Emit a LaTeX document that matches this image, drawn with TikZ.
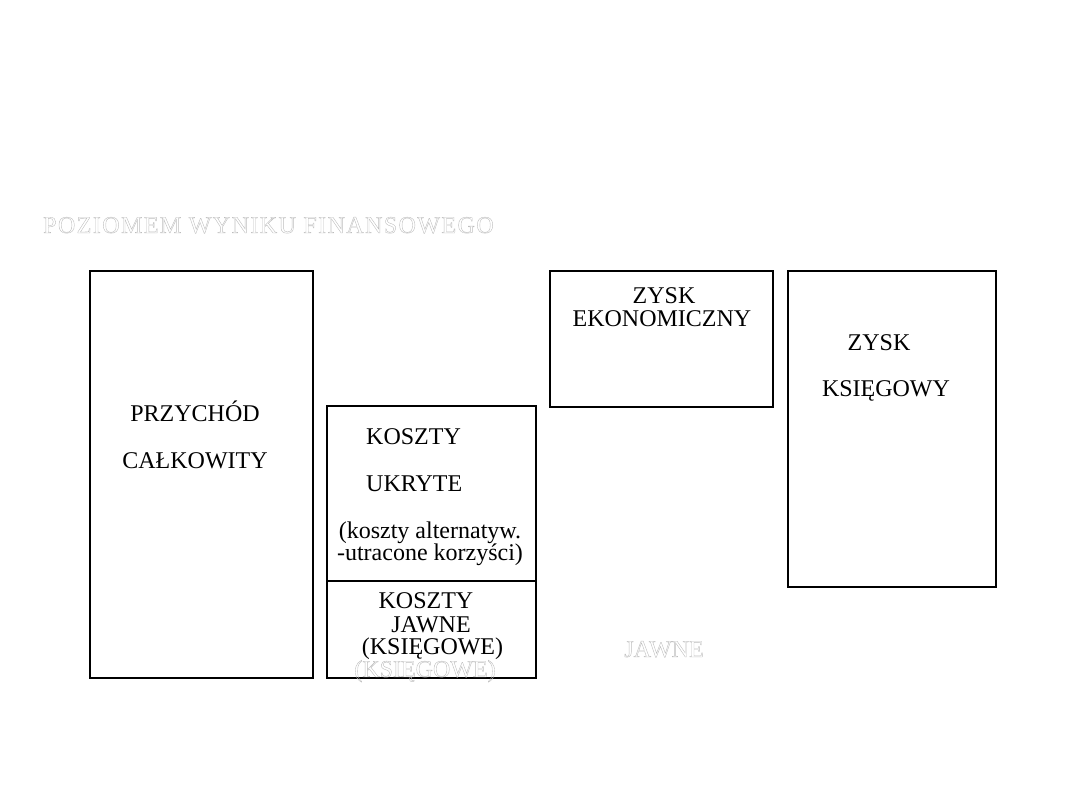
\documentclass[tikz,border=0pt]{standalone}
\usepackage{fontspec}
\setmainfont{Liberation Serif}
\newcommand{\outltext}[1]{\special{pdf:literal direct 1 Tr 0.4 w 0.74 0.74 0.74 RG}#1\special{pdf:literal direct 0 Tr 0 0 0 RG}}
\tikzset{
  boxnode/.style={draw=black, line width=1.6pt, inner sep=0pt, anchor=north west, rectangle},
  lbl/.style={font=\fontsize{24}{28}\selectfont, inner sep=0pt, anchor=base},
  lblw/.style={font=\fontsize{24}{28}\selectfont, inner sep=0pt, anchor=base west},
  ghost/.style={font=\fontsize{24}{28}\selectfont, inner sep=0pt, anchor=base}
}
\begin{document}
\begin{tikzpicture}[x=1pt,y=-1pt]
\useasboundingbox (0,0) rectangle (1080,810);
% boxes
\node[boxnode, minimum width=223pt, minimum height=407pt] (przychod) at (89,270) {};
\node[boxnode, minimum width=209pt, minimum height=175pt] (ukryte) at (326,405) {};
\node[boxnode, minimum width=209pt, minimum height=97pt] (jawne) at (326,580) {};
\node[boxnode, minimum width=223pt, minimum height=136pt] (zyske) at (549,270) {};
\node[boxnode, minimum width=208pt, minimum height=316pt] (zyskk) at (787,270) {};
% texts
\node[lbl] (t1) at (195,422) {PRZYCHÓD};
\node[lbl] (t2) at (195,468) {CAŁKOWITY};
\node[lblw] (t3) at (366,445) {KOSZTY};
\node[lblw] (t4) at (366,491) {UKRYTE};
\node[lbl] (t5) at (430,538) {(koszty alternatyw.};
\node[lbl] (t6) at (430,560) {-utracone korzyści)};
\node[lbl] (t7) at (426,608) {KOSZTY};
\node[lbl] (t8) at (431,632) {JAWNE};
\node[lbl] (t9) at (432.5,654) {(KSIĘGOWE)};
\node[lbl] (t10) at (664,304) {ZYSK};
\node[lbl] (t11) at (662,327) {EKONOMICZNY};
\node[lbl] (t12) at (879,351) {ZYSK};
\node[lbl] (t13) at (886,397) {KSIĘGOWY};
% outlined ghost texts
\node[ghost] (g1) at (268.5,233) {\addfontfeatures{LetterSpace=6}\outltext{POZIOMEM WYNIKU FINANSOWEGO}};
\node[ghost] (g2) at (425,677) {\outltext{(KSIĘGOWE)}};
\node[ghost] (g3) at (664,657) {\outltext{JAWNE}};
\end{tikzpicture}
\end{document}
